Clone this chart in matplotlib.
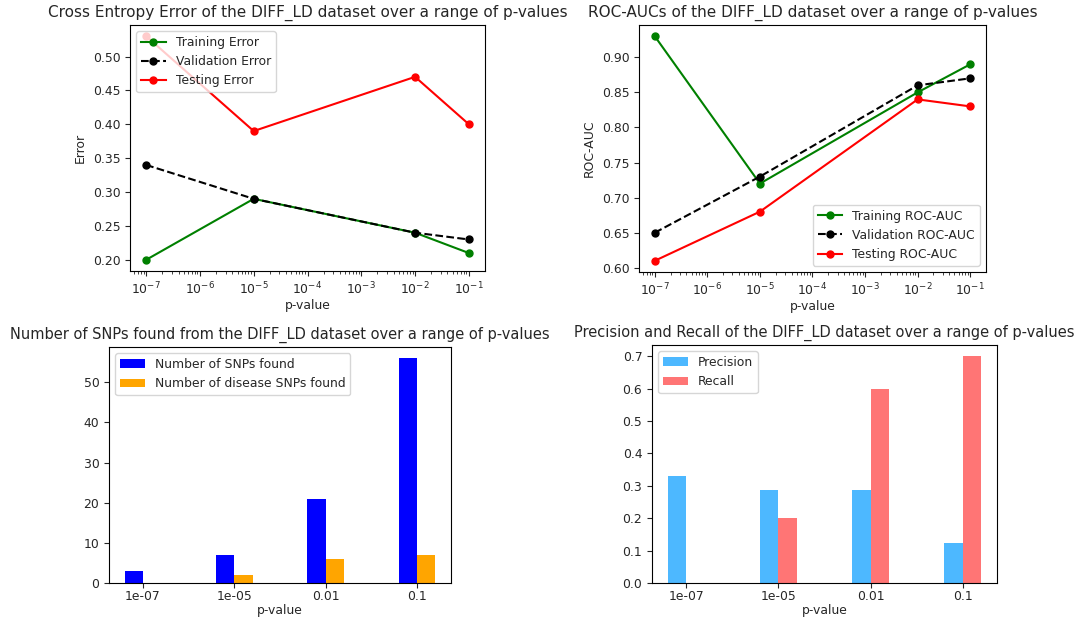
import numpy as np
import matplotlib
matplotlib.use("Agg")
import matplotlib.pyplot as plt

# p-value thresholds
p_values = [1e-7, 1e-5, 1e-2, 1e-1]
p_labels = ["1e-07", "1e-05", "0.01", "0.1"]

# cross entropy error
train_err = [0.20, 0.29, 0.24, 0.21]
val_err = [0.34, 0.29, 0.24, 0.23]
test_err = [0.53, 0.39, 0.47, 0.40]

# ROC-AUC
train_auc = [0.93, 0.72, 0.85, 0.89]
val_auc = [0.65, 0.73, 0.86, 0.87]
test_auc = [0.61, 0.68, 0.84, 0.83]

# SNP counts
n_snps = [3, 7, 21, 56]
n_disease_snps = [0, 2, 6, 7]

# precision / recall
precision = [0.33, 0.2857, 0.2857, 0.125]
recall = [0.0, 0.2, 0.6, 0.7]

plt.rcParams["font.size"] = 8.9
plt.rcParams["text.color"] = "#262626"
plt.rcParams["axes.labelcolor"] = "#262626"
plt.rcParams["xtick.color"] = "#262626"
plt.rcParams["ytick.color"] = "#262626"

W, H = 1081, 619
fig = plt.figure(figsize=(W / 100, H / 100), dpi=100)


def box(l, t, r, b):
    return [l / W, 1 - b / H, (r - l) / W, (b - t) / H]


ax1 = fig.add_axes(box(130, 25, 485, 271))
ax2 = fig.add_axes(box(639, 25, 986, 272))
ax3 = fig.add_axes(box(109, 347, 451, 583))
ax4 = fig.add_axes(box(652, 345, 997, 583))

log_ticks = [1e-7, 1e-6, 1e-5, 1e-4, 1e-3, 1e-2, 1e-1]

# error plot
ax1.plot(p_values, train_err, "o-", color="green", ms=5, label="Training Error")
ax1.plot(p_values, val_err, "o--", color="black", ms=5, label="Validation Error")
ax1.plot(p_values, test_err, "o-", color="red", ms=5, label="Testing Error")
ax1.set_xscale("log")
ax1.set_xticks(log_ticks)
ax1.set_xlabel("p-value", labelpad=1)
ax1.set_ylabel("Error")
ax1.set_title("Cross Entropy Error of the DIFF_LD dataset over a range of p-values", fontsize=11)
ax1.legend(loc="upper left")

# ROC-AUC plot
ax2.plot(p_values, train_auc, "o-", color="green", ms=5, label="Training ROC-AUC")
ax2.plot(p_values, val_auc, "o--", color="black", ms=5, label="Validation ROC-AUC")
ax2.plot(p_values, test_auc, "o-", color="red", ms=5, label="Testing ROC-AUC")
ax2.set_xscale("log")
ax2.set_xticks(log_ticks)
ax2.set_xlabel("p-value", labelpad=1)
ax2.set_ylabel("ROC-AUC")
ax2.set_title("ROC-AUCs of the DIFF_LD dataset over a range of p-values", fontsize=11)
ax2.legend(loc="lower right")

x = np.arange(len(p_labels))
w = 0.2

# SNP counts
ax3.bar(x - w / 2, n_snps, w, color="blue", label="Number of SNPs found")
ax3.bar(x + w / 2, n_disease_snps, w, color="orange", label="Number of disease SNPs found")
ax3.set_xticks(x)
ax3.set_xticklabels(p_labels)
ax3.tick_params(axis="x", pad=1.5)
ax3.set_xlabel("p-value", labelpad=0.5)
ax3.set_title("Number of SNPs found from the DIFF_LD dataset over a range of p-values", fontsize=10.5)
ax3.legend(loc="upper left")

# precision / recall
ax4.bar(x - w / 2, precision, w, color="#4db8ff", label="Precision")
ax4.bar(x + w / 2, recall, w, color="#ff7575", label="Recall")
ax4.set_xticks(x)
ax4.set_xticklabels(p_labels)
ax4.tick_params(axis="x", pad=1.5)
ax4.set_xlabel("p-value", labelpad=0.5)
ax4.set_title("Precision and Recall of the DIFF_LD dataset over a range of p-values", fontsize=10.5)
ax4.legend(loc="upper left")

fig.savefig("out.png", dpi=100)
